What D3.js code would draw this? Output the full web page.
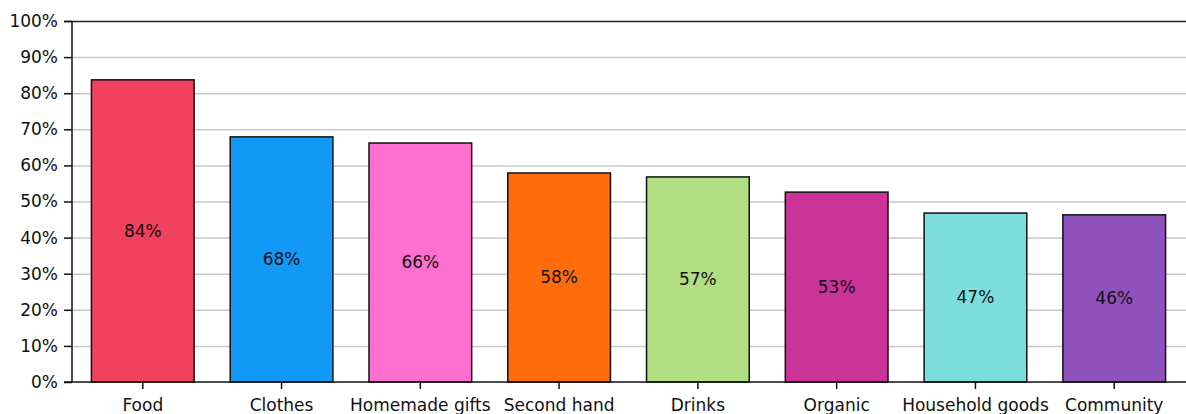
<!DOCTYPE html>
<html>
<head>
<meta charset="utf-8">
<script src="https://cdn.jsdelivr.net/npm/d3@7"></script>
<style>
  body { margin: 0; background: #fff; }
  svg text { font-family: "DejaVu Sans", sans-serif; font-size: 17px; fill: #111; }
</style>
</head>
<body>
<div id="chart"></div>
<script>
// values
const categories = ['Food', 'Clothes', 'Homemade gifts', 'Second hand', 'Drinks', 'Organic', 'Household goods', 'Community'];
const values = [83.7, 67.9, 66.2, 57.9, 56.8, 52.6, 46.8, 46.3];
const valueLabels = ['84%', '68%', '66%', '58%', '57%', '53%', '47%', '46%'];
const colors = ['#f2405f', '#1199f7', '#ff6fd0', '#ff6c0a', '#b2de82', '#cc3399', '#7bdedd', '#8f52bd'];
const yTicks = [0, 10, 20, 30, 40, 50, 60, 70, 80, 90, 100];

const width = 1186, height = 414;
const plotLeft = 72, plotRight = 1185, plotTop = 21, plotBottom = 382;

const svg = d3.select('#chart').append('svg')
    .attr('width', width)
    .attr('height', height);

const x = d3.scaleBand()
    .domain(categories)
    .range([plotLeft, plotRight])
    .paddingInner(0.26)
    .paddingOuter(0.14);

const y = d3.scaleLinear()
    .domain([0, 100])
    .range([plotBottom, plotTop]);

// grid lines
svg.append('g')
    .selectAll('line')
    .data(yTicks.slice(1, -1))
    .enter()
    .append('line')
    .attr('x1', plotLeft)
    .attr('x2', width)
    .attr('y1', d => y(d) + 0.5)
    .attr('y2', d => y(d) + 0.5)
    .attr('stroke', '#c8c8c8')
    .attr('stroke-width', 1.5);

// top border line
svg.append('line')
    .attr('x1', plotLeft - 8).attr('x2', width)
    .attr('y1', y(100) + 0.5).attr('y2', y(100) + 0.5)
    .attr('stroke', '#222').attr('stroke-width', 1.5);

// bars
const data = categories.map((c, i) => ({ cat: c, value: values[i], label: valueLabels[i], color: colors[i] }));

svg.selectAll('.bar')
    .data(data)
    .enter()
    .append('rect')
    .attr('class', 'bar')
    .attr('x', d => x(d.cat))
    .attr('y', d => y(d.value))
    .attr('width', x.bandwidth())
    .attr('height', d => y(0) - y(d.value))
    .attr('fill', d => d.color)
    .attr('stroke', '#111')
    .attr('stroke-width', 1.5);

svg.selectAll('.val')
    .data(data)
    .enter()
    .append('text')
    .attr('class', 'val')
    .attr('x', d => x(d.cat) + x.bandwidth() / 2)
    .attr('y', d => (y(d.value) + y(0)) / 2)
    .attr('dy', '0.35em')
    .attr('text-anchor', 'middle')
    .text(d => d.label);

// y axis
const yAxis = svg.append('g')
    .attr('transform', 'translate(' + plotLeft + ',0)')
    .call(d3.axisLeft(y).tickValues(yTicks).tickFormat(d => d + '%').tickSize(8).tickPadding(6));
yAxis.selectAll('path, line').attr('stroke', '#111').attr('stroke-width', 1.5);
yAxis.select('.domain').attr('d', 'M0,' + plotTop + 'V' + plotBottom);

// x axis
const xAxis = svg.append('g')
    .attr('transform', 'translate(0,' + plotBottom + ')')
    .call(d3.axisBottom(x).tickSize(7).tickPadding(10));
xAxis.selectAll('line').attr('stroke', '#111').attr('stroke-width', 1.5);
xAxis.select('.domain').attr('d', 'M' + (plotLeft - 8) + ',0H' + width).attr('stroke', '#111').attr('stroke-width', 1.5);

// let the css font rule apply to axis labels
svg.selectAll('g').attr('font-size', null).attr('font-family', null);
</script>
</body>
</html>
